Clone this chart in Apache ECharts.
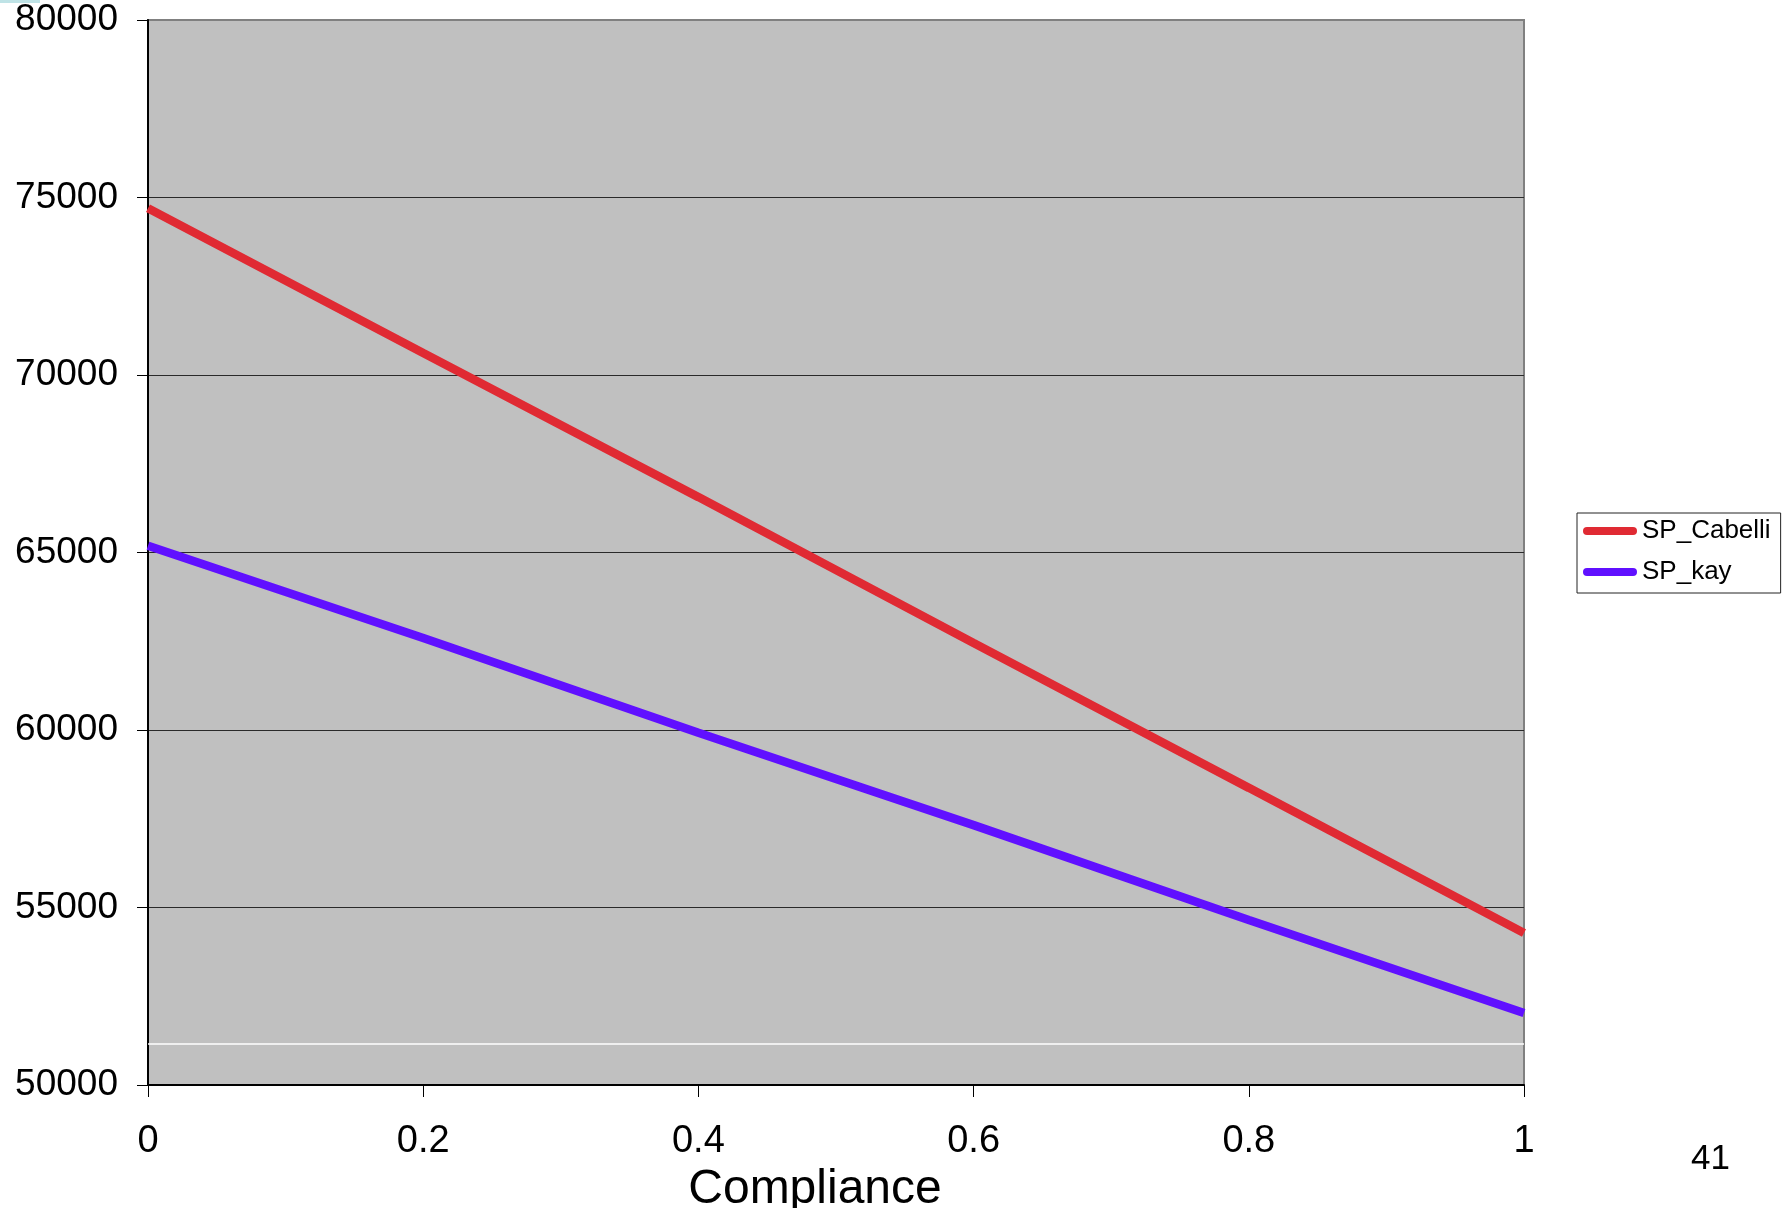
<!DOCTYPE html>
<html>
<head>
<meta charset="utf-8">
<script src="https://cdn.jsdelivr.net/npm/echarts@6/dist/echarts.min.js"></script>
<style>
html,body{margin:0;padding:0;background:#fff;}
#chart{width:1786px;height:1208px;}
</style>
</head>
<body>
<div id="chart"></div>
<script>
// ---- data ----
var compliance = [0, 0.2, 0.4, 0.6, 0.8, 1];
var spCabelli = [74700, 70620, 66560, 62450, 58370, 54280];
var spKay = [65190, 62590, 59920, 57320, 54650, 52030];
var seriesNames = ['SP_Cabelli', 'SP_kay'];
var whiteRuleValue = 51150;
var xAxisTitle = 'Compliance';
var pageNumber = '41';
var yMin = 50000, yMax = 80000, yStep = 5000;
var xMin = 0, xMax = 1, xStep = 0.2;

function pairs(xs, ys) { return xs.map(function (x, i) { return [x, ys[i]]; }); }

var FONT = '"Liberation Sans", Arial, sans-serif';
var chart = echarts.init(document.getElementById('chart'), null, { renderer: 'canvas' });

var legendIcon = 'path://M4,0 L50,0 A4,4 0 0 1 50,8 L4,8 A4,4 0 0 1 4,0 Z';

chart.setOption({
  animation: false,
  backgroundColor: '#ffffff',
  grid: {
    left: 148, right: 262, top: 20, bottom: 123,
    containLabel: false,
    outerBoundsMode: 'none',
    show: true,
    backgroundColor: '#C0C0C0',
    borderColor: '#808080',
    borderWidth: 2
  },
  legend: {
    orient: 'vertical',
    left: 1577, top: 513,
    padding: [5, 10, 8, 6],
    itemGap: 15,
    itemWidth: 54,
    itemHeight: 8,
    icon: legendIcon,
    backgroundColor: '#ffffff',
    borderColor: '#222',
    borderWidth: 1,
    textStyle: { fontFamily: FONT, fontSize: 26, color: '#000' },
    data: seriesNames
  },
  xAxis: {
    type: 'value',
    min: xMin, max: xMax, interval: xStep,
    name: xAxisTitle,
    nameLocation: 'middle',
    nameGap: 64,
    nameTextStyle: { fontFamily: FONT, fontSize: 48, color: '#000', padding: [0, 42, 0, 0] },
    axisLine: { show: true, onZero: false, lineStyle: { color: '#000', width: 2 } },
    axisTick: { show: true, inside: false, length: 12, lineStyle: { color: '#000', width: 1 } },
    axisLabel: { fontFamily: FONT, fontSize: 38, color: '#000', margin: 38 },
    splitLine: { show: false }
  },
  yAxis: {
    type: 'value',
    min: yMin, max: yMax, interval: yStep,
    axisLine: { show: true, lineStyle: { color: '#000', width: 2 } },
    axisTick: { show: true, inside: false, length: 11, lineStyle: { color: '#000', width: 1 } },
    axisLabel: {
      fontFamily: FONT, fontSize: 37, color: '#000', margin: 30,
      formatter: function (v) { return String(v); }
    },
    splitLine: { show: true, showMinLine: false, showMaxLine: false, lineStyle: { color: '#2a2a2a', width: 1 } }
  },
  series: [
    {
      name: seriesNames[0],
      type: 'line',
      data: pairs(compliance, spCabelli),
      showSymbol: false,
      symbol: 'none',
      lineStyle: { color: '#E02A33', width: 8.5 },
      itemStyle: { color: '#E02A33' },
      z: 3,
      markLine: {
        silent: true,
        symbol: 'none',
        label: { show: false },
        lineStyle: { color: '#ffffff', width: 1.5, type: 'solid' },
        data: [{ yAxis: whiteRuleValue }]
      }
    },
    {
      name: seriesNames[1],
      type: 'line',
      data: pairs(compliance, spKay),
      showSymbol: false,
      symbol: 'none',
      lineStyle: { color: '#6010FF', width: 8.5 },
      itemStyle: { color: '#6010FF' },
      z: 3
    }
  ],
  graphic: [
    { type: 'rect', left: 0, top: 0, shape: { width: 40, height: 3 }, style: { fill: '#bfe3e6' } },
    {
      type: 'text', left: 1691, top: 1142,
      style: { text: pageNumber, fontFamily: FONT, fontSize: 35, fill: '#000' }
    }
  ]
});
</script>
</body>
</html>
